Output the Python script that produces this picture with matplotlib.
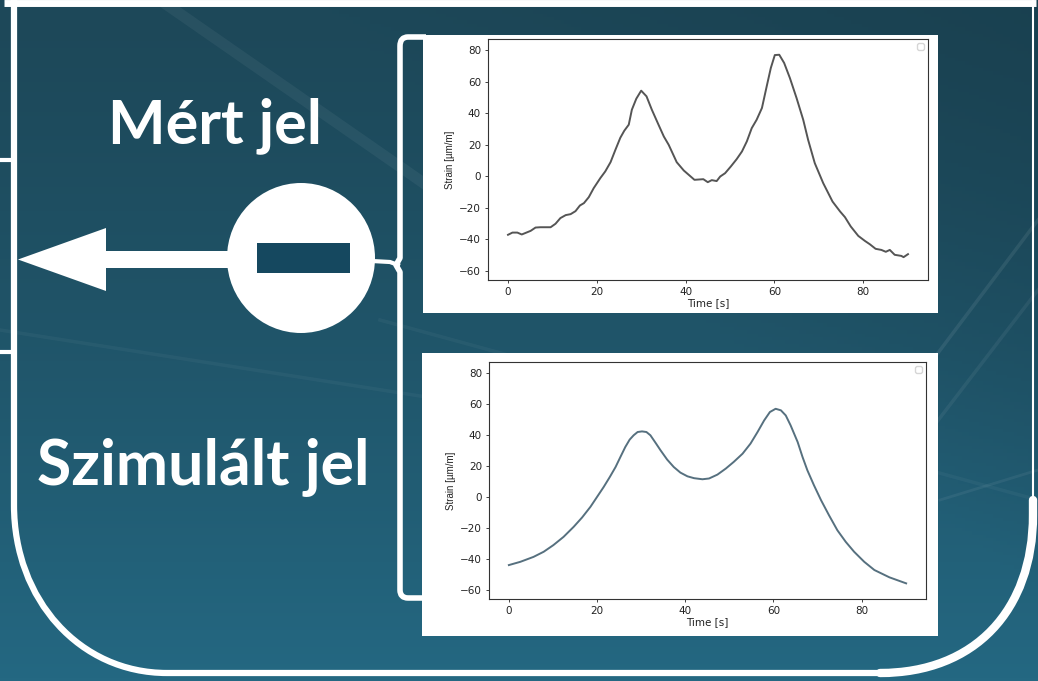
import numpy as np
import matplotlib
matplotlib.use("Agg")
import matplotlib.pyplot as plt
from matplotlib.patches import Rectangle, Ellipse, Polygon, PathPatch
from matplotlib.path import Path

# measured signal (Mért jel)
meas_t = [0, 1, 2.1, 3.1, 5.1, 6.2, 7.3, 9.6, 10.7, 11.8, 13, 14.1, 15.2, 16.2, 17.1,
          18.2, 19.3, 20.8, 21.9, 23.1, 24.2, 25.3, 26.2, 27.2, 27.9, 28.9, 30, 31.2,
          32.4, 33.9, 35.1, 36.2, 38, 39.6, 40.7, 42, 44, 45, 45.9, 47, 47.8, 48.9,
          50.2, 51.5, 52.7, 53.8, 54.9, 56, 57.2, 58.3, 59.2, 60.1, 61.1, 62.2, 63.5,
          65, 66.5, 67.6, 69.1, 71, 73.1, 74.8, 75.9, 77.2, 78.9, 80.4, 81.5, 82.8,
          84.1, 85.1, 86, 87.1, 88.6, 89.1, 90.1]
meas_strain = [-37.1, -35.7, -35.7, -36.9, -34.6, -32.5, -32.3, -32.3, -30.1, -26.5,
               -24.6, -24, -22.1, -18.5, -17, -13.2, -7.5, -1.1, 3.1, 9, 16.9, 24.5, 29,
               32.8, 42.3, 49.3, 54.4, 50.8, 42.3, 32.8, 25.3, 20, 9, 3.7, 1, -2.2, -1.8,
               -3.7, -2.4, -3, -0.1, 2, 6.3, 10.9, 15.8, 22.2, 30.6, 35.9, 43.4, 57.5,
               68.8, 77, 77.2, 72, 62.4, 49.7, 35.9, 23.2, 8.4, -4.3, -16, -22.3, -25.9,
               -31.8, -37.8, -41, -43.1, -46, -46.7, -47.9, -46.7, -49.8, -50.5, -51.3,
               -49.4]

# simulated signal (Szimulált jel)
sim_t = [0, 2.6, 5.6, 7.9, 10.1, 12.4, 14.7, 16.6, 18.5, 20, 21.5, 22.9, 24.2, 25.3,
         26.4, 27.4, 28.3, 29.2, 30.2, 31.2, 32.1, 33.3, 34.4, 35.9, 37.4, 38.9, 40.5,
         42, 43.9, 45.4, 47.3, 49.2, 51, 53, 54.8, 56.4, 57.9, 59.2, 60.5, 61.7, 62.8,
         63.9, 65.5, 66.6, 67.7, 69.2, 70.8, 72.6, 74.5, 76.4, 78.3, 80.6, 82.9, 86.3,
         90.1]
sim_strain = [-43.9, -41.8, -38.6, -35.3, -31, -25.7, -19.2, -13.2, -6.3, 0.1, 6.5, 13,
              19.4, 25.9, 32.3, 37.1, 39.9, 42, 42.4, 42, 39.9, 34.9, 30.2, 24.2, 19.4,
              15.8, 13.4, 12.2, 11.5, 12, 14.5, 18.4, 22.7, 28, 34.5, 42, 49.5, 54.9,
              57, 56, 52.7, 46.3, 35.5, 25.9, 17.3, 7.6, -2, -11.7, -21.4, -28.9, -35.3,
              -41.8, -47.1, -51.8, -55.7]

x_ticks = [0, 20, 40, 60, 80]
y_ticks = [-60, -40, -20, 0, 20, 40, 60, 80]

W, H = 1038, 681
fig = plt.figure(figsize=(W / 100, H / 100), dpi=100)

# background gradient
bg = fig.add_axes([0, 0, 1, 1])
bg.set_axis_off()
yy, xx = np.mgrid[0:1:200j, 0:1:300j]
top = np.array([0x1d, 0x48, 0x59]) / 255
bot = np.array([0x24, 0x68, 0x82]) / 255
dark = np.array([0x16, 0x39, 0x47]) / 255
k = yy[..., None] ** 1.3
img = top * (1 - k) + bot * k
corner = np.clip(xx - yy * 0.8 - 0.3, 0, 1)[..., None] * 0.7
img = img * (1 - corner) + dark * corner
bg.imshow(img, extent=[0, W, H, 0], aspect="auto")
bg.set_xlim(0, W)
bg.set_ylim(H, 0)

# faint streaks
for (x0, y0, x1, y1, a, w) in [(160, 0, 520, 250, 0.05, 8), (0, 330, 700, 440, 0.04, 2.5),
                               (380, 320, 1038, 500, 0.04, 2.5), (1038, 220, 880, 430, 0.08, 2.5),
                               (1038, 290, 900, 470, 0.06, 2.5), (940, 500, 1038, 470, 0.06, 2)]:
    bg.plot([x0, x1], [y0, y1], color="white", alpha=a, lw=w)

# white frame
bg.plot([4, 1036], [3, 3], color="white", lw=5, solid_capstyle="butt")
bg.plot([1033, 1033], [0, 500], color="white", lw=1.5)
verts = [(14, 0), (14, 505), (14, 600), (80, 673), (167, 673), (885, 673)]
codes = [Path.MOVETO, Path.LINETO, Path.CURVE4, Path.CURVE4, Path.CURVE4, Path.LINETO]
bg.add_patch(PathPatch(Path(verts, codes), fill=False, ec="white", lw=4.5,
                       capstyle="round"))
rverts = [(880, 673), (975, 673), (1033, 610), (1033, 515), (1033, 500)]
rcodes = [Path.MOVETO, Path.CURVE4, Path.CURVE4, Path.CURVE4, Path.LINETO]
bg.add_patch(PathPatch(Path(rverts, rcodes), fill=False, ec="white", lw=6,
                       capstyle="round"))
for yv in [160, 352]:
    bg.plot([0, 14], [yv, yv], color="white", lw=3)

# bracket
bverts = [(426, 37), (408, 37), (400, 37), (400, 46), (400, 258), (396, 265),
          (400, 272), (400, 590), (400, 598), (408, 598), (426, 598)]
bcodes = [Path.MOVETO, Path.LINETO, Path.CURVE3, Path.CURVE3, Path.LINETO,
          Path.LINETO, Path.LINETO, Path.LINETO, Path.CURVE3, Path.CURVE3,
          Path.LINETO]
bg.add_patch(PathPatch(Path(bverts, bcodes), fill=False, ec="white", lw=4,
                       capstyle="butt", joinstyle="round"))
bg.plot([372, 390, 398], [261, 262, 265], color="white", lw=3)

# arrow
bg.add_patch(Rectangle((100, 251), 135, 17, color="white", lw=0))
bg.add_patch(Polygon([(18, 259.5), (106, 228), (106, 291)], closed=True,
                     color="white", lw=0))

# circle with minus
bg.add_patch(Ellipse((301, 258), 148, 150, color="white", lw=0))
bg.add_patch(Rectangle((257, 243), 93, 30, color="#15485f", lw=0))

# labels
bg.text(215, 126, "Mért jel", color="white", fontsize=44, fontweight="bold",
        family="Lato", ha="center", va="center")
bg.text(203, 467, "Szimulált jel", color="white", fontsize=45, fontweight="bold",
        family="Lato", ha="center", va="center")

# white panels behind charts
bg.add_patch(Rectangle((423, 35), 515, 278, color="white", lw=0))
bg.add_patch(Rectangle((422, 353), 516, 283, color="white", lw=0))


def draw(rect, t, s, color):
    ax = fig.add_axes(rect)
    ax.plot(t, s, color=color, lw=1.4)
    ax.set_ylim(-65.8, 87.2)
    ax.set_xticks(x_ticks)
    ax.set_yticks(y_ticks)
    ax.tick_params(labelsize=7.5, length=2.5, width=0.6, colors="#222222", pad=2.5)
    for sp in ax.spines.values():
        sp.set_linewidth(0.8)
        sp.set_color("#333333")
    ax.set_xlabel("Time [s]", fontsize=7.5, labelpad=1, color="#222222")
    ax.set_ylabel("Strain [µm/m]", fontsize=7, labelpad=3, color="#222222",
                  family="Liberation Sans")
    ax.legend(loc="upper right", fontsize=6)
    return ax


draw([488 / W, 1 - 280 / H, 440 / W, 241 / H], meas_t, meas_strain, "#555555")
draw([489 / W, 1 - 599 / H, 437 / W, 237 / H], sim_t, sim_strain, "#56707f")

fig.savefig("out.png", dpi=100)
